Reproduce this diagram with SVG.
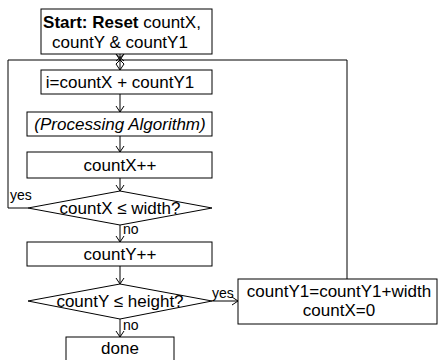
<svg xmlns="http://www.w3.org/2000/svg" width="438" height="360" viewBox="0 0 438 360">
<style>
.box{fill:#fff;stroke:#000;stroke-width:1}
.t{font-family:"Liberation Sans",Arial,sans-serif;font-size:17px;fill:#000;text-anchor:middle}
.lbl{font-family:"Liberation Sans",Arial,sans-serif;font-size:14px;fill:#000}
.c{fill:none;stroke:#000;stroke-width:1}
</style>
<defs>
<marker id="ah" markerUnits="userSpaceOnUse" markerWidth="8" markerHeight="10" refX="6" refY="4" orient="auto" overflow="visible">
<path d="M0,0 L6,4 L0,8" fill="none" stroke="#000" stroke-width="1"/>
</marker>
</defs>
<rect width="438" height="360" fill="#fff"/>
<g id="connectors">
<path class="c" d="M28,208 H8 V60 H347 V279"/>
<path class="c" d="M120,54 V60" marker-end="url(#ah)"/>
<path class="c" d="M116,54 L124,61 M124,54 L116,61"/>
<path class="c" d="M120,60 V70" marker-end="url(#ah)"/>
<path class="c" d="M116,64 L120,60 L124,64"/>
<path class="c" d="M120,94 V112" marker-end="url(#ah)"/>
<path class="c" d="M120,136 V152" marker-end="url(#ah)"/>
<path class="c" d="M120,178 V191" marker-end="url(#ah)"/>
<path class="c" d="M120,225 V242" marker-end="url(#ah)"/>
<path class="c" d="M120,266 V284" marker-end="url(#ah)"/>
<path class="c" d="M212,301 H238" marker-end="url(#ah)"/>
<path class="c" d="M120,319 V337" marker-end="url(#ah)"/>
<text class="lbl" x="10" y="200">yes</text>
<text class="lbl" x="123" y="234">no</text>
<text class="lbl" x="212" y="298">yes</text>
<text class="lbl" x="123" y="330">no</text>
</g>
<g id="start">
<rect class="box" x="41" y="9" width="171" height="45"/>
<text class="t" x="122" y="28"><tspan font-weight="bold">Start: Reset</tspan> countX,</text>
<text class="t" x="120" y="48">countY &amp; countY1</text>
</g>
<g id="compute-i">
<rect class="box" x="41" y="70" width="171" height="24"/>
<text class="t" x="120" y="88">i=countX + countY1</text>
</g>
<g id="processing">
<rect class="box" x="27" y="112" width="185" height="24"/>
<text class="t" x="120" y="130" font-style="italic">(Processing Algorithm)</text>
</g>
<g id="incX">
<rect class="box" x="27" y="152" width="185" height="26"/>
<text class="t" x="120" y="171">countX++</text>
</g>
<g id="checkX">
<polygon class="box" points="28,208 120,191 212,208 120,225"/>
<text class="t" x="120" y="214">countX ≤ width?</text>
</g>
<g id="incY">
<rect class="box" x="27" y="242" width="185" height="24"/>
<text class="t" x="120" y="260">countY++</text>
</g>
<g id="checkY">
<polygon class="box" points="28,301 120,284 212,301 120,319"/>
<text class="t" x="120" y="307">countY ≤ height?</text>
</g>
<g id="update">
<rect class="box" x="238" y="279" width="199" height="45"/>
<text class="t" x="339" y="297">countY1=countY1+width</text>
<text class="t" x="339" y="316">countX=0</text>
</g>
<g id="done">
<rect class="box" x="66" y="337" width="108" height="30"/>
<text class="t" x="120" y="354">done</text>
</g>
</svg>
